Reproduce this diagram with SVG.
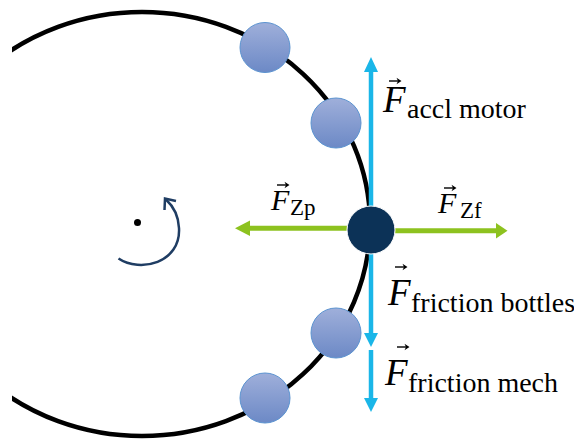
<svg xmlns="http://www.w3.org/2000/svg" xmlns:xlink="http://www.w3.org/1999/xlink" width="574" height="439" viewBox="0 0 574 439">
<style>
.bottle{fill:url(#bg);stroke:#5B93D0;stroke-width:1}
.cyan{stroke:#1AB6E8;stroke-width:4.5;fill:none}
.cyanh{fill:#1AB6E8}
.green{stroke:#8DC21F;stroke-width:5;fill:none}
.greenh{fill:#8DC21F}
.F{font-family:"Liberation Serif","Times New Roman",serif;font-style:italic;fill:#000}
.sub{font-family:"Liberation Serif","Times New Roman",serif;fill:#000}
.vec{stroke:#000;stroke-width:1.4;fill:none}
</style>
<defs>
<linearGradient id="bg" x1="0" y1="0" x2="0" y2="1">
<stop offset="0" stop-color="#9FAFDA"/>
<stop offset="1" stop-color="#6C89C6"/>
</linearGradient>
<clipPath id="clip"><rect x="12" y="0" width="562" height="439"/></clipPath>
<g id="vecA"><path class="vec" d="M0,0 H11"/><path d="M12.5,0 L7.5,-3.2 L9,0 L7.5,3.2 Z" fill="#000"/></g>
</defs>
<rect width="574" height="439" fill="#fff"/>
<g id="track">
<ellipse cx="142" cy="224" rx="228" ry="212" fill="none" stroke="#000" stroke-width="4.5" clip-path="url(#clip)"/>
</g>
<g id="rotation">
<circle cx="137.5" cy="222.5" r="3.5" fill="#000"/>
<path d="M118.5,258.5 C140,273 181,263 179,228 C178.5,216 173,206 166,199.5" fill="none" stroke="#1F3D63" stroke-width="2.5"/>
<path d="M176,201 L165,198.5 L164.5,210" fill="none" stroke="#1F3D63" stroke-width="2.5"/>
</g>
<g id="bottle1"><circle class="bottle" cx="265" cy="47.5" r="25"/></g>
<g id="bottle2"><circle class="bottle" cx="336" cy="123" r="25"/></g>
<g id="bottle3"><circle class="bottle" cx="336" cy="333" r="25"/></g>
<g id="bottle4"><circle class="bottle" cx="265" cy="398" r="25"/></g>
<g id="connectors">
<path class="cyan" d="M371,207 V71"/>
<polygon class="cyanh" points="364,72 378,72 371,57"/>
<path class="cyan" d="M371,253 V334"/>
<polygon class="cyanh" points="364,333 378,333 371,347"/>
<path class="cyan" d="M371,350 V399"/>
<polygon class="cyanh" points="364,398 378,398 371,412"/>
<path class="green" d="M347,228.3 H249"/>
<polygon class="greenh" points="250,220.5 250,236 235,228.3"/>
<path class="green" d="M395,230.7 H497"/>
<polygon class="greenh" points="496,223 496,238.5 507.5,230.7"/>
</g>
<g id="mass"><circle cx="371" cy="230" r="24" fill="#0C3257" stroke="#ffffff" stroke-width="1"/></g>
<g id="label-accl">
<text class="F" x="383" y="112" font-size="37">F</text>
<use xlink:href="#vecA" x="389" y="81"/>
<text class="sub" x="407" y="118" font-size="28">accl motor</text>
</g>
<g id="label-zp">
<text class="F" x="271" y="210" font-size="30">F</text>
<use xlink:href="#vecA" x="277" y="185"/>
<text class="sub" x="290" y="215" font-size="23">Zp</text>
</g>
<g id="label-zf">
<text class="F" x="438" y="213" font-size="30">F</text>
<use xlink:href="#vecA" x="444" y="188"/>
<text class="sub" x="460" y="218" font-size="23">Zf</text>
</g>
<g id="label-bottles">
<text class="F" x="388" y="305" font-size="37">F</text>
<use xlink:href="#vecA" x="395" y="267"/>
<text class="sub" x="411" y="312" font-size="28">friction bottles</text>
</g>
<g id="label-mech">
<text class="F" x="385" y="385" font-size="37">F</text>
<use xlink:href="#vecA" x="397" y="347"/>
<text class="sub" x="408" y="392" font-size="28">friction mech</text>
</g>
</svg>
